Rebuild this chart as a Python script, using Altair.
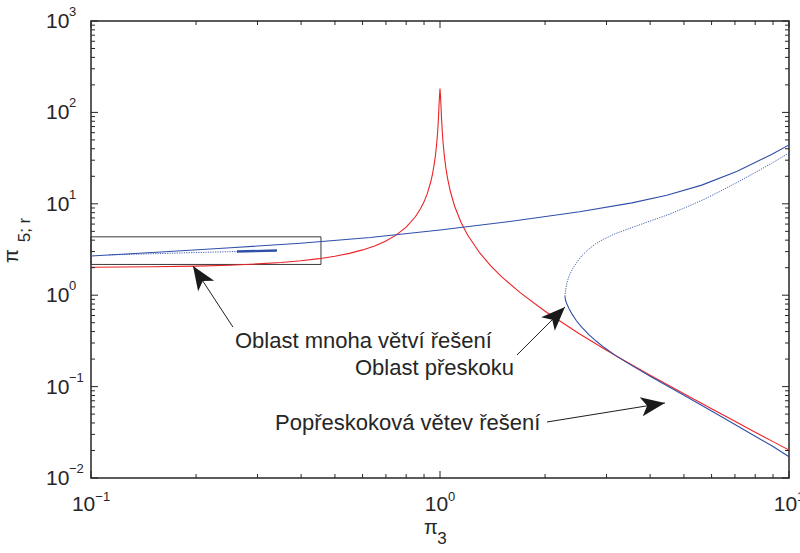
import math
import altair as alt
import pandas as pd

W, H = 698, 457
RED = "#ec2227"
BLUE = "#2f4fa8"
INK = "#262626"
FONT = "Liberation Sans"

# ---- data ----
red_x = [0.10, 0.15, 0.20, 0.25, 0.30, 0.35, 0.40, 0.45, 0.50, 0.55,
         0.60, 0.65, 0.70, 0.75, 0.80, 0.85, 0.88, 0.90, 0.92, 0.94,
         0.95, 0.96, 0.97, 0.98, 0.985, 0.99, 0.995, 1.00, 1.005, 1.01,
         1.015, 1.02, 1.03, 1.04, 1.05, 1.07, 1.10, 1.15, 1.20, 1.30,
         1.40, 1.50, 1.70, 2.00, 2.50, 3.00, 3.50, 4.00, 5.00, 6.00,
         7.00, 8.00, 9.00, 10.0]
red_y = [2.02, 2.05, 2.08, 2.13, 2.20, 2.28, 2.38, 2.51, 2.67, 2.87,
         3.13, 3.46, 3.92, 4.57, 5.56, 7.21, 8.87, 10.5, 13.0, 17.2,
         20.4, 25.5, 33.3, 48.7, 63.0, 88.0, 135, 183, 134, 87.3,
         62.2, 47.8, 32.3, 24.4, 19.5, 13.8, 9.52, 6.20, 4.55, 2.90,
         2.08, 1.60, 1.06, 0.667, 0.381, 0.250, 0.178, 0.133, 0.0833, 0.0571,
         0.0417, 0.0317, 0.0250, 0.0202]

blue_x = [0.10, 0.1585, 0.2512, 0.3981, 0.6310, 1.00, 1.585, 2.512, 3.548, 4.467,
          5.623, 7.079, 8.913, 10.0]
blue_y = [2.685, 2.974, 3.303, 3.698, 4.284, 5.164, 6.411, 8.184, 10.24, 12.43,
          16.01, 22.62, 34.63, 44.1]

# branch after the jump: dotted upper part and solid lower part
upper_x = [2.280, 2.291, 2.312, 2.344, 2.399, 2.466, 2.547, 2.661, 2.786, 2.951,
           3.162, 3.548, 4.074, 4.571, 5.129, 5.754, 6.310, 7.079, 7.943, 8.913, 10.0]
upper_y = [0.970, 1.148, 1.380, 1.622, 1.950, 2.291, 2.692, 3.162, 3.631, 4.121,
           4.677, 5.495, 6.637, 7.762, 9.333, 11.35, 13.55, 17.06, 21.63, 27.73, 35.9]
lower_x = [2.28, 2.29, 2.31, 2.34, 2.39, 2.46, 2.55, 2.67, 2.80, 2.95,
           3.20, 3.50, 4.00, 5.00, 6.00, 7.00, 8.00, 9.00, 10.0]
lower_y = [0.970, 0.880, 0.800, 0.720, 0.620, 0.525, 0.445, 0.370, 0.315, 0.269,
           0.2153, 0.175, 0.130, 0.0805, 0.0540, 0.0385, 0.0287, 0.0221, 0.0171]

# many branches region (inside the box)
many_x = [0.113, 0.15, 0.20, 0.262, 0.341]
many_y = [2.76, 2.84, 2.93, 3.006, 3.08]
thick_x = [0.262, 0.341]
thick_y = [3.006, 3.08]

box_x = [0.1, 0.456]
box_y = [2.17, 4.35]

ann_text = ["Oblast mnoha větví řešení", "Oblast přeskoku", "Popřeskoková větev řešení"]
ann_x = [0.2586, 0.5707, 0.3367]
ann_y = [0.2644, 0.1339, 0.0335]
arr_tail_x = [0.255, 1.662, 2.026]
arr_tail_y = [0.449, 0.222, 0.0410]
arr_tip_x = [0.196, 2.281, 4.41]
arr_tip_y = [2.087, 0.743, 0.0662]

x_major = [0.1, 1, 10]
x_exp = ["−1", "0", "1"]
y_major = [0.01, 0.1, 1, 10, 100, 1000]
y_exp = ["−2", "−1", "0", "1", "2", "3"]
x_minor = [m * 10.0 ** e for e in (-1, 0) for m in range(2, 10)]
y_minor = [m * 10.0 ** e for e in range(-2, 3) for m in range(2, 10)]

XD = [0.1, 10]
YD = [0.01, 1000]


def X(f):
    return alt.X(f"{f}:Q", scale=alt.Scale(type="log", domain=XD, nice=False), axis=None)


def Y(f):
    return alt.Y(f"{f}:Q", scale=alt.Scale(type="log", domain=YD, nice=False), axis=None)


def line(xs, ys, **kw):
    df = pd.DataFrame({"x": xs, "y": ys, "i": range(len(xs))})
    return alt.Chart(df).mark_line(clip=True, **kw).encode(
        x=X("x"), y=Y("y"), order=alt.Order("i:Q"))


layers = []

# box around region of many branches
layers.append(alt.Chart(pd.DataFrame({"x0": [box_x[0]], "x1": [box_x[1]],
                                      "y0": [box_y[0]], "y1": [box_y[1]]}))
              .mark_rect(fillOpacity=0, stroke="#3a3a3a", strokeWidth=1)
              .encode(x=X("x0"), x2="x1", y=Y("y0"), y2="y1"))

layers.append(line(red_x, red_y, color=RED, strokeWidth=1.1))
layers.append(line(blue_x, blue_y, color=BLUE, strokeWidth=1.1))
layers.append(line(upper_x, upper_y, color=BLUE, strokeWidth=1, strokeDash=[1.2, 1.2], opacity=0.9))
layers.append(line(lower_x, lower_y, color=BLUE, strokeWidth=1.1))
layers.append(line(many_x, many_y, color=BLUE, strokeWidth=1, strokeDash=[1.2, 1.2], opacity=0.9))
layers.append(line(thick_x, thick_y, color=BLUE, strokeWidth=2.4))


# ticks (inside, all four sides)
def xticks(vals, length):
    df = pd.DataFrame({"v": vals})
    base = alt.Chart(df).mark_rule(color=INK, strokeWidth=1)
    return [base.encode(x=X("v"), y=alt.value(H), y2=alt.value(H - length)),
            base.encode(x=X("v"), y=alt.value(0), y2=alt.value(length))]


def yticks(vals, length):
    df = pd.DataFrame({"v": vals})
    base = alt.Chart(df).mark_rule(color=INK, strokeWidth=1)
    return [base.encode(y=Y("v"), x=alt.value(0), x2=alt.value(length)),
            base.encode(y=Y("v"), x=alt.value(W), x2=alt.value(W - length))]


layers += xticks(x_major, 7) + xticks(x_minor, 4)
layers += yticks(y_major, 7) + yticks(y_minor, 4)

# tick labels
ydf = pd.DataFrame({"v": y_major, "e": y_exp})
layers.append(alt.Chart(ydf).mark_text(text="10", align="left", baseline="middle", dy=1,
                                       fontSize=21, font=FONT, color=INK)
              .encode(y=Y("v"), x=alt.value(-45)))
layers.append(alt.Chart(ydf).mark_text(align="left", baseline="middle", dy=-9,
                                       fontSize=13, font=FONT, color=INK)
              .encode(y=Y("v"), x=alt.value(-22), text="e:N"))

for neg in (True, False):
    sel = [i for i, e in enumerate(x_exp) if e.startswith("−") == neg]
    xdf = pd.DataFrame({"v": [x_major[i] for i in sel], "e": [x_exp[i] for i in sel]})
    off = 4.3 if neg else 8.1
    layers.append(alt.Chart(xdf).mark_text(text="10", align="right", baseline="middle", dx=off,
                                           fontSize=21, font=FONT, color=INK)
                  .encode(x=X("v"), y=alt.value(H + 27)))
    layers.append(alt.Chart(xdf).mark_text(align="left", baseline="middle", dx=off,
                                           fontSize=13, font=FONT, color=INK)
                  .encode(x=X("v"), y=alt.value(H + 18.5), text="e:N"))

# axis titles
one = pd.DataFrame({"a": [0]})
layers.append(alt.Chart(one).mark_text(text="π", align="center", baseline="middle",
                                       fontSize=20, font=FONT, color=INK)
              .encode(x=alt.value(340), y=alt.value(H + 50)))
layers.append(alt.Chart(one).mark_text(text="3", align="center", baseline="middle",
                                       fontSize=17, font=FONT, color=INK)
              .encode(x=alt.value(351), y=alt.value(H + 61)))
layers.append(alt.Chart(one).mark_text(text="π", align="center", baseline="middle", angle=270,
                                       fontSize=20, font=FONT, color=INK)
              .encode(x=alt.value(-79), y=alt.value(235)))
layers.append(alt.Chart(one).mark_text(text="5; r", align="center", baseline="middle", angle=270,
                                       fontSize=17, font=FONT, color=INK)
              .encode(x=alt.value(-66), y=alt.value(209)))


# annotations
def scr_angle(x0, y0, x1, y1):
    dx = W / 2 * (math.log10(x1) - math.log10(x0))
    dy = -H / 5 * (math.log10(y1) - math.log10(y0))
    return math.degrees(math.atan2(dy, dx)) % 360


adf = pd.DataFrame({"x0": arr_tail_x, "y0": arr_tail_y, "x1": arr_tip_x, "y1": arr_tip_y})
adf["ang"] = [scr_angle(a, b, c, d) for a, b, c, d in zip(arr_tail_x, arr_tail_y, arr_tip_x, arr_tip_y)]
layers.append(alt.Chart(adf).mark_rule(color="#1e1e1e", strokeWidth=1)
              .encode(x=X("x0"), y=Y("y0"), x2="x1", y2="y1"))
HEAD = "M0,0 L-2,-0.8 L-1.5,0 L-2,0.8 Z"
layers.append(alt.Chart(adf).mark_point(shape=HEAD, filled=True, color="#1a1a1a", size=576,
                                        opacity=1, strokeWidth=0)
              .encode(x=X("x1"), y=Y("y1"), angle=alt.Angle("ang:Q", scale=None)))

tdf = pd.DataFrame({"x": ann_x, "y": ann_y, "t": ann_text})
layers.append(alt.Chart(tdf).mark_text(align="left", baseline="alphabetic", fontSize=22,
                                       font=FONT, color=INK)
              .encode(x=X("x"), y=Y("y"), text="t:N"))

chart = alt.layer(*layers).properties(
    width=W, height=H,
    autosize=alt.AutoSizeParams(type="none"),
    padding={"left": 91, "top": 21, "right": 11, "bottom": 75},
    background="white",
).configure_view(stroke=INK, strokeWidth=1.5)

chart.save("out.html", embed_options={"renderer": "svg", "actions": False})
